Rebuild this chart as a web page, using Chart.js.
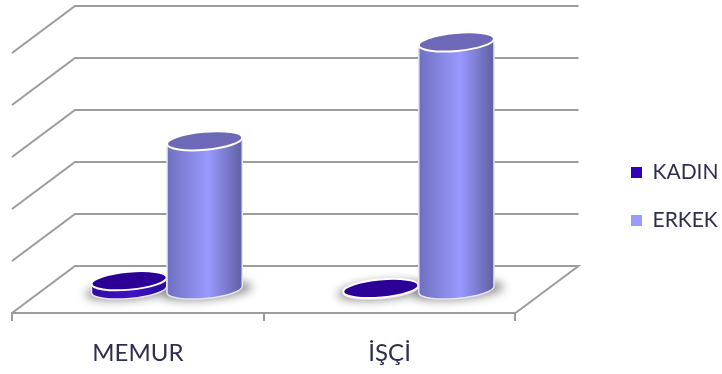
<!DOCTYPE html>
<html lang="tr">
<head>
<meta charset="utf-8">
<title>Memur ve işçi sayıları</title>
<script src="https://cdn.jsdelivr.net/npm/chart.js@4/dist/chart.umd.min.js"></script>
<style>
    html, body { margin: 0; padding: 0; background: #fff; }
    canvas { display: block; }
</style>
</head>
<body>
<canvas id="staffChart" width="722" height="374"></canvas>
<script>
// Chart data
const categories = ['MEMUR', 'İŞÇİ'];
const kadinValues = [1.7, 0.2];
const erkekValues = [28.6, 47.6];
const axisMax = 50;
const axisStep = 10;

// How far the back wall sits behind the front plane
const DEPTH_X = 63;
const DEPTH_Y = -47;
// Cylinders stand about halfway along that depth
const MID_X = 29;
const MID_Y = -23.5;
const TILT = -0.09;
const GRID_COLOR = '#9c9c9c';
const TEXT_COLOR = '#2f2f4d';

// Shades for the cylinder sides and lids
const cylinderShades = {
    KADIN: { left: '#300aa8', mid: '#3f12c4', right: '#2a0a96', lid: '#2c0096' },
    ERKEK: { left: '#7070c0', mid: '#9999ff', right: '#5f5fa2', lid: '#6d68b8' }
};

// Back wall, left wall and floor, hung on the y scale ticks
const wallsPlugin = {
    id: 'walls',
    beforeDatasetsDraw(chart) {
        const { ctx, chartArea, scales } = chart;
        ctx.save();
        ctx.strokeStyle = GRID_COLOR;
        ctx.lineWidth = 2;
        scales.y.ticks.forEach(tick => {
            const py = scales.y.getPixelForValue(tick.value);
            ctx.beginPath();
            ctx.moveTo(chartArea.left, py);
            ctx.lineTo(chartArea.left + DEPTH_X, py + DEPTH_Y);
            ctx.lineTo(chartArea.right + DEPTH_X, py + DEPTH_Y);
            if (tick.value === 0) {
                ctx.lineTo(chartArea.right, py);
            }
            ctx.stroke();
        });
        ctx.restore();
    }
};

function tiltedEllipse(ctx, cx, cy, rx, ry) {
    ctx.beginPath();
    ctx.ellipse(cx, cy, rx, ry, TILT, 0, Math.PI * 2);
}

// Draw one cylinder from a bar element's position
function drawCylinder(ctx, bar, shades) {
    const rx = bar.width / 2;
    const ry = 9;
    const cx = bar.x + MID_X;
    const baseY = bar.base + MID_Y;
    const topY = bar.y + MID_Y;

    const side = ctx.createLinearGradient(cx - rx, 0, cx + rx, 0);
    side.addColorStop(0, shades.left);
    side.addColorStop(0.55, shades.mid);
    side.addColorStop(1, shades.right);

    ctx.beginPath();
    ctx.ellipse(cx, baseY, rx, ry, TILT, 0, Math.PI);
    ctx.ellipse(cx, topY, rx, ry, TILT, Math.PI, Math.PI * 2);
    ctx.closePath();
    ctx.fillStyle = side;
    ctx.fill();
    ctx.strokeStyle = '#e6e6f2';
    ctx.lineWidth = 1.5;
    ctx.stroke();

    tiltedEllipse(ctx, cx, topY, rx, ry);
    ctx.fillStyle = shades.lid;
    ctx.fill();
    ctx.strokeStyle = '#fff';
    ctx.lineWidth = 2;
    ctx.stroke();
}

const cylindersPlugin = {
    id: 'cylinders',
    // The flat bars stay in the chart for layout and legend only
    beforeDatasetDraw() {
        return false;
    },
    afterDatasetsDraw(chart) {
        const { ctx } = chart;
        const metas = chart.getSortedVisibleDatasetMetas();
        ctx.save();

        // Soft floor shadows go underneath everything
        ctx.filter = 'blur(5px)';
        ctx.fillStyle = 'rgba(70, 70, 70, 0.6)';
        metas.forEach(meta => {
            meta.data.forEach(bar => {
                tiltedEllipse(ctx, bar.x + MID_X + 2, bar.base + MID_Y + 1, bar.width / 2 + 8, 9);
                ctx.fill();
            });
        });
        ctx.filter = 'none';

        metas.forEach(meta => {
            const shades = cylinderShades[chart.data.datasets[meta.index].label];
            meta.data.forEach(bar => drawCylinder(ctx, bar, shades));
        });
        ctx.restore();
    },
    // Legend sits further right and higher than the space it reserves
    afterLayout(chart) {
        const legend = chart.legend;
        const width = legend.right - legend.left;
        legend.left = 604;
        legend.right = legend.left + width;
        legend.top -= 17;
        legend.bottom -= 17;
    }
};

new Chart(document.getElementById('staffChart'), {
    type: 'bar',
    data: {
        labels: categories,
        datasets: [
            { label: 'KADIN', data: kadinValues, backgroundColor: '#3300bb' },
            { label: 'ERKEK', data: erkekValues, backgroundColor: '#9999ff' }
        ]
    },
    options: {
        responsive: false,
        animation: false,
        categoryPercentage: 0.6,
        barPercentage: 1,
        layout: {
            padding: { left: 12, right: 82, top: 53, bottom: 0 }
        },
        scales: {
            x: {
                afterFit(scale) {
                    scale.height = 61;
                },
                border: { color: GRID_COLOR, width: 2 },
                grid: { color: GRID_COLOR, lineWidth: 2, drawOnChartArea: false, tickLength: 8 },
                ticks: {
                    color: TEXT_COLOR,
                    padding: 18,
                    maxRotation: 0,
                    font: { family: 'Lato', size: 24 }
                }
            },
            y: {
                display: false,
                min: 0,
                max: axisMax,
                ticks: { stepSize: axisStep }
            }
        },
        plugins: {
            tooltip: { enabled: false },
            legend: {
                position: 'right',
                labels: {
                    boxWidth: 11,
                    boxHeight: 11,
                    padding: 27,
                    color: TEXT_COLOR,
                    font: { family: 'Lato', size: 21 }
                }
            }
        }
    },
    plugins: [wallsPlugin, cylindersPlugin]
});
</script>
</body>
</html>
